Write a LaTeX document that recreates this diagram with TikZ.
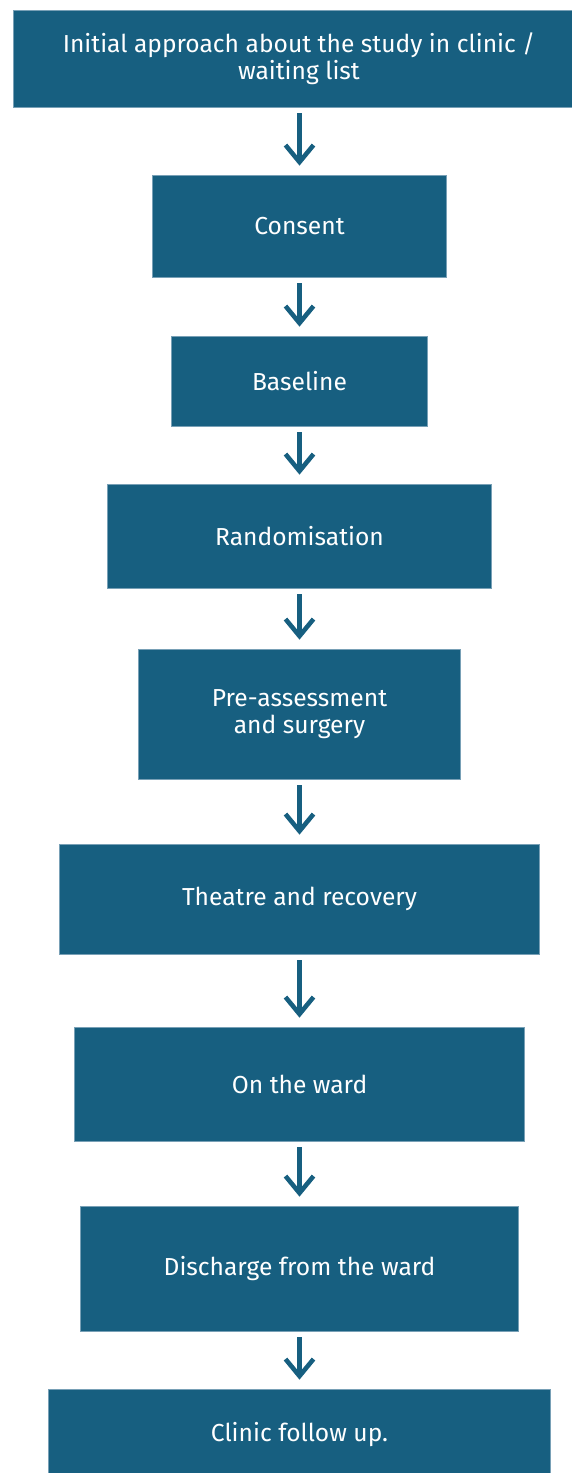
\documentclass[tikz,border=0pt]{standalone}
\usepackage{fontspec}
\setmainfont{Fira Sans}
\usetikzlibrary{arrows.meta}

\definecolor{stageblue}{RGB}{23,95,128}
\definecolor{stageedge}{RGB}{120,160,182}

\tikzset{
    stage/.style={fill=stageblue, draw=stageedge, line width=0.4pt, text=white,
        align=center, inner sep=0pt, font=\fontsize{14}{15.5}\selectfont},
    flow/.style={draw=stageblue, line width=2.6pt,
        -{Straight Barb[length=0.34cm,width=0.56cm]},
        shorten <=0.12cm, shorten >=0.18cm}
}

\begin{document}
\begin{tikzpicture}
    \useasboundingbox (0,0) rectangle (11.44,-29.46);

    % top box is wider to the left, text stays on the column axis
    \node[stage, minimum width=11.18cm, minimum height=1.94cm] (init) at (5.85,-1.17)
        {\hspace*{0.26cm}Initial approach about the study in clinic /\\\hspace*{0.26cm}waiting list};
    \node[stage, minimum width=5.88cm, minimum height=2.04cm] (consent) at (5.99,-4.52) {Consent};
    \node[stage, minimum width=5.12cm, minimum height=1.80cm] (baseline) at (5.99,-7.62) {Baseline};
    \node[stage, minimum width=7.68cm, minimum height=2.08cm] (random) at (5.99,-10.72) {Randomisation};
    \node[stage, minimum width=6.44cm, minimum height=2.60cm] (preop) at (5.99,-14.28)
        {Pre-assessment\\and surgery};
    \node[stage, minimum width=9.60cm, minimum height=2.20cm] (theatre) at (5.99,-17.98) {Theatre and recovery};
    \node[stage, minimum width=9.00cm, minimum height=2.28cm] (ward) at (5.99,-21.68) {On the ward};
    \node[stage, minimum width=8.76cm, minimum height=2.50cm] (discharge) at (5.99,-25.37) {Discharge from the ward};
    \node[stage, minimum width=10.04cm, minimum height=1.84cm] (followup) at (5.99,-28.70) {Clinic follow up.};

    \draw[flow] (init.south -| consent) -- (consent);
    \foreach \a/\b in {consent/baseline, baseline/random, random/preop, preop/theatre,
                       theatre/ward, ward/discharge, discharge/followup}
        \draw[flow] (\a) -- (\b);
\end{tikzpicture}
\end{document}
